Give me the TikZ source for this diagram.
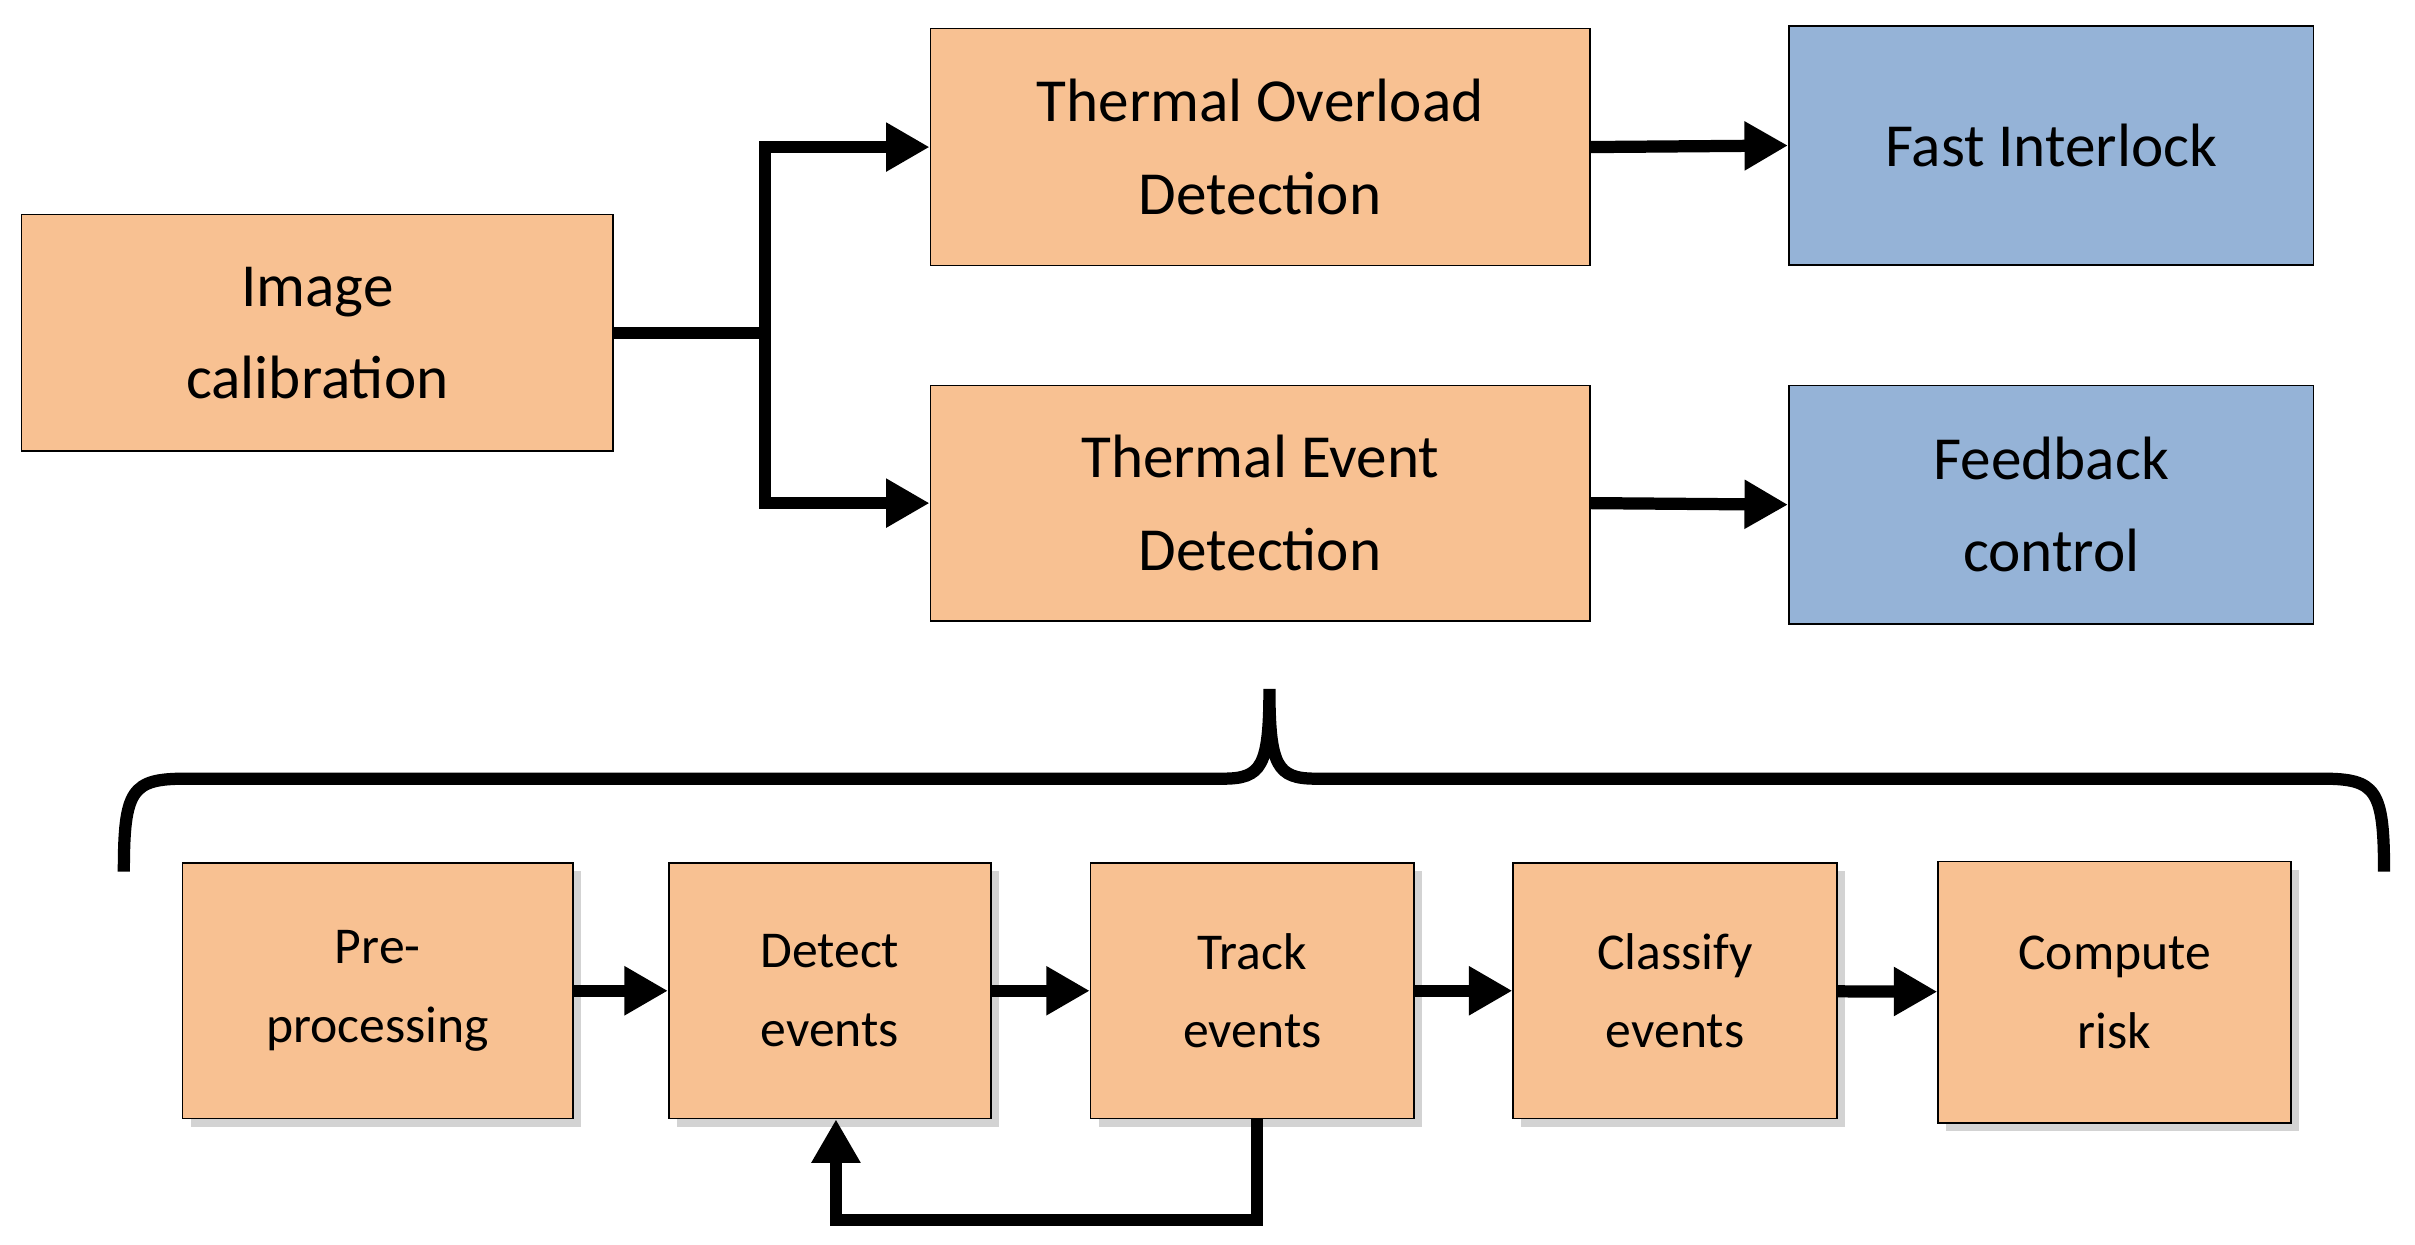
\documentclass[tikz,border=0pt]{standalone}
\usepackage{fontspec}
\setmainfont{Carlito}
\usetikzlibrary{arrows.meta,shadows}
\definecolor{org}{HTML}{F8C192}
\definecolor{blu}{HTML}{95B3D7}
\begin{document}
\begin{tikzpicture}[x=0.02cm,y=-0.02cm,
  box/.style={draw=black,line width=0.6pt,inner sep=0pt,align=center},
  big/.style={box,font=\fontsize{22.5}{34}\selectfont},
  small/.style={box,fill=org,font=\fontsize{19}{29}\selectfont,drop shadow={shadow xshift=3pt,shadow yshift=-3pt,opacity=0.35}},
  ar/.style={line width=4.5pt,-{Triangle[length=16pt,width=17pt]}},
  ln/.style={line width=4.5pt}]
\useasboundingbox (0,0) rectangle (1560,804);
\node[big,fill=org,minimum width=382*0.02cm,minimum height=153*0.02cm] (ic) at (205,215) {Image\\calibration};
\node[big,fill=org,minimum width=426*0.02cm,minimum height=153*0.02cm] (to) at (814,95) {Thermal Overload\\Detection};
\node[big,fill=blu,minimum width=339*0.02cm,minimum height=154*0.02cm] (fi) at (1325,94) {Fast Interlock};
\node[big,fill=org,minimum width=426*0.02cm,minimum height=152*0.02cm] (te) at (814,325) {Thermal Event\\Detection};
\node[big,fill=blu,minimum width=339*0.02cm,minimum height=154*0.02cm] (fc) at (1325,326) {Feedback\\control};
\node[small,minimum width=252*0.02cm,minimum height=165*0.02cm] (pp) at (244,640) {Pre-\\processing};
\node[small,minimum width=208*0.02cm,minimum height=165*0.02cm] (de) at (536,640) {Detect\\events};
\node[small,minimum width=209*0.02cm,minimum height=165*0.02cm] (tr) at (809,640) {Track\\events};
\node[small,minimum width=209*0.02cm,minimum height=165*0.02cm] (cl) at (1082,640) {Classify\\events};
\node[small,minimum width=228*0.02cm,minimum height=169*0.02cm] (cr) at (1366,641) {Compute\\risk};
\coordinate (j) at (494,215);
\draw[ln] (ic.east) -- (j);
\draw[ar] (j) |- (to.west);
\draw[ar] (j) |- (te.west);
\draw[ar] (to.east) -- (fi.west);
\draw[ar] (te.east) -- (fc.west);
\draw[ar] (pp) -- (de);
\draw[ar] (de) -- (tr);
\draw[ar] (tr) -- (cl);
\draw[ar] (cl) -- (cr);
\coordinate (l1) at (812,788);
\coordinate (l2) at (540,788);
\draw[ar] (tr.south -| l1) -- (l1) -- (l2) -- (de.south -| l2);
\draw[line width=4.5pt] (80,563) .. controls (80,510) and (85,503) .. (120,503) -- (790,503)
  .. controls (815,503) and (820,495) .. (820,445)
  .. controls (820,495) and (825,503) .. (850,503) -- (1500,503)
  .. controls (1535,503) and (1540,510) .. (1540,563);
\end{tikzpicture}
\end{document}
